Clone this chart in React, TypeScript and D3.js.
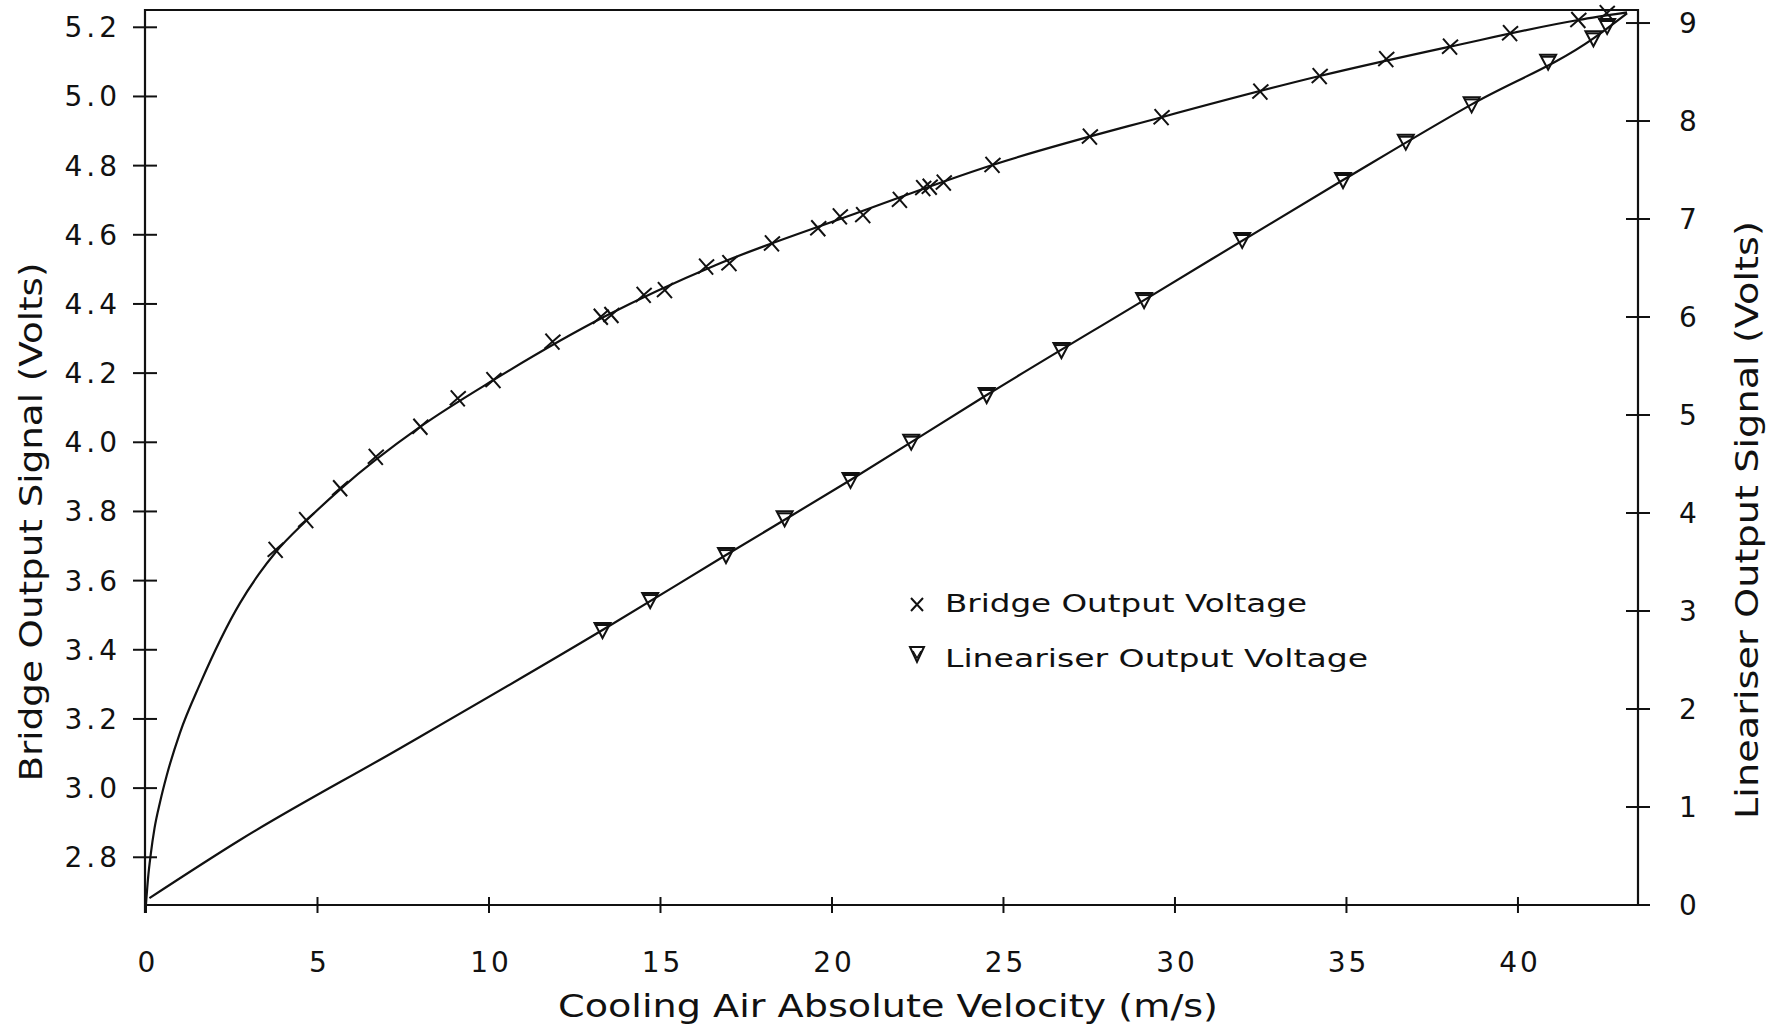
import * as d3 from 'd3'

// bridge output (left axis), marker readings
const bridgeVel = [3.78, 4.67, 5.66, 6.70, 8.00, 9.09, 10.13, 11.85, 13.26, 13.57, 14.51, 15.13, 16.33, 17.01, 18.25, 19.60, 20.23, 20.91, 21.98, 22.66, 22.85, 23.26, 24.68, 27.52, 29.61, 32.49, 34.22, 36.16, 38.02, 39.77, 41.76, 42.59]
const bridgeVolt = [3.689, 3.775, 3.867, 3.958, 4.045, 4.127, 4.180, 4.291, 4.363, 4.368, 4.426, 4.440, 4.508, 4.518, 4.575, 4.619, 4.653, 4.657, 4.701, 4.735, 4.739, 4.751, 4.802, 4.884, 4.940, 5.014, 5.059, 5.108, 5.144, 5.183, 5.221, 5.241]

// fitted bridge curve
const bridgeFitVel = [0.0, 0.06, 0.14, 0.25, 0.41, 0.60, 0.99, 1.57, 2.74, 3.3, 3.78, 4.67, 5.66, 8.0, 10.13, 13.4, 16.6, 20.5, 24.68, 29.61, 34.22, 38.02, 41.76, 43.18]
const bridgeFitVolt = [2.665, 2.74, 2.81, 2.885, 2.96, 3.035, 3.16, 3.30, 3.535, 3.62, 3.682, 3.773, 3.864, 4.045, 4.18, 4.365, 4.512, 4.655, 4.802, 4.94, 5.059, 5.144, 5.221, 5.243]

// lineariser output (right axis)
const linVel = [13.31, 14.70, 16.91, 18.62, 20.54, 22.31, 24.51, 26.69, 29.10, 31.96, 34.90, 36.73, 38.65, 40.88, 42.20, 42.6]
const linVolt = [2.806, 3.112, 3.571, 3.946, 4.337, 4.728, 5.204, 5.663, 6.173, 6.786, 7.398, 7.789, 8.17, 8.605, 8.844, 8.97]

const linFitVel = [0.1, 2.74, 7.41, 13.31, 16.91, 20.54, 24.51, 29.10, 34.90, 38.65, 42.20, 43.18]
const linFitVolt = [0.07, 0.663, 1.60, 2.806, 3.571, 4.337, 5.204, 6.173, 7.398, 8.17, 8.844, 9.10]

const xTicks = [0, 5, 10, 15, 20, 25, 30, 35, 40]
const leftTicks = [2.8, 3.0, 3.2, 3.4, 3.6, 3.8, 4.0, 4.2, 4.4, 4.6, 4.8, 5.0, 5.2]
const rightTicks = [0, 1, 2, 3, 4, 5, 6, 7, 8, 9]

const W = 1778
const H = 1028
const FONT = '"DejaVu Sans", sans-serif'

const App = () => {
  const x = d3.scaleLinear().domain([0, 43.5]).range([146, 1638])
  const yL = d3.scaleLinear().domain([2.662, 5.25]).range([905, 10])
  const yR = d3.scaleLinear().domain([0, 9.133]).range([905, 10])

  const left = 145
  const right = x(43.5)
  const bottom = yL(2.662)
  const top = yL(5.25)

  const bridgeLine = d3.line<number>()
    .x((_, i) => x(bridgeFitVel[i]))
    .y((d) => yL(d))
    .curve(d3.curveMonotoneX)
  const linLine = d3.line<number>()
    .x((_, i) => x(linFitVel[i]))
    .y((d) => yR(d))
    .curve(d3.curveMonotoneX)

  const fmt = d3.format('.1f')
  const ink = '#111'

  const cross = (cx: number, cy: number, k: string | number) => (
    <path key={k} d={`M${cx - 7},${cy - 8}L${cx + 7},${cy + 8}M${cx - 8},${cy + 7}L${cx + 8},${cy - 7}`}
      stroke={ink} strokeWidth={2} fill="none" />
  )
  const tri = (cx: number, cy: number, k: string | number) => (
    <g key={k} transform={`translate(${cx},${cy})`}>
      <path d="M-8,-7L8,-7L0,8Z" stroke={ink} strokeWidth={2} fill="none" />
      <path d="M-7,-5L7,-5" stroke={ink} strokeWidth={2} />
    </g>
  )

  return (
    <svg width={W} height={H} style={{ position: 'absolute', left: 0, top: 0, background: '#fff' }}>
      <rect width={W} height={H} fill="#fff" />

      {/* frame / axes */}
      <path d={`M${left},${bottom + 8}L${left},${top}L${right},${top}L${right},${bottom}`} stroke={ink} strokeWidth={2.2} fill="none" />
      <path d={`M${left},${bottom}L${right + 12},${bottom}`} stroke={ink} strokeWidth={2.2} />

      {/* x ticks */}
      {xTicks.map((t) => (
        <g key={`x${t}`}>
          <line x1={x(t)} x2={x(t)} y1={bottom - 8} y2={bottom + 8} stroke={ink} strokeWidth={2} />
          <text x={x(t) + 2} y={972} textAnchor="middle" fontSize={28} fontFamily={FONT} letterSpacing={3} fill={ink}>{t}</text>
        </g>
      ))}

      {/* left ticks */}
      {leftTicks.map((t) => (
        <g key={`l${t}`}>
          <line x1={left - 12} x2={left + 12} y1={yL(t)} y2={yL(t)} stroke={ink} strokeWidth={2} />
          <text x={121} y={yL(t) + 10} textAnchor="end" fontSize={28} fontFamily={FONT} letterSpacing={4} fill={ink}>{fmt(t)}</text>
        </g>
      ))}

      {/* right ticks */}
      {rightTicks.map((t) => (
        <g key={`r${t}`}>
          <line x1={right - 12} x2={right + 12} y1={yR(t)} y2={yR(t)} stroke={ink} strokeWidth={2} />
          <text x={1679} y={yR(t) + 10} textAnchor="start" fontSize={28} fontFamily={FONT} fill={ink}>{t}</text>
        </g>
      ))}

      {/* axis titles */}
      <text transform="translate(42,522) rotate(-90)" textAnchor="middle" fontSize={32} fontFamily={FONT}
        textLength={519} lengthAdjust="spacingAndGlyphs" fill={ink}>Bridge Output Signal (Volts)</text>
      <text transform="translate(1758,520) rotate(-90)" textAnchor="middle" fontSize={32} fontFamily={FONT}
        textLength={598} lengthAdjust="spacingAndGlyphs" fill={ink}>Lineariser Output Signal (Volts)</text>
      <text x={888} y={1017} textAnchor="middle" fontSize={32} fontFamily={FONT}
        textLength={660} lengthAdjust="spacingAndGlyphs" fill={ink}>Cooling Air Absolute Velocity (m/s)</text>

      {/* curves */}
      <path d={bridgeLine(bridgeFitVolt) ?? ''} stroke={ink} strokeWidth={2.2} fill="none" />
      <path d={linLine(linFitVolt) ?? ''} stroke={ink} strokeWidth={2.2} fill="none" />

      {/* markers */}
      {bridgeVolt.map((v, i) => cross(x(bridgeVel[i]), yL(v), `b${i}`))}
      {linVolt.map((v, i) => tri(x(linVel[i]), yR(v), `t${i}`))}

      {/* legend */}
      <path d="M911,598L923,611M911,611L923,598" stroke={ink} strokeWidth={2} />
      <text x={945} y={612} fontSize={24} fontFamily={FONT} textLength={362} lengthAdjust="spacingAndGlyphs" fill={ink}>Bridge Output Voltage</text>
      <g transform="translate(917,654)">
        <path d="M-7,-7L7,-7L0,8Z" stroke={ink} strokeWidth={2} fill="none" />
        <path d="M-4,-3L0,4L4,-3" stroke={ink} strokeWidth={1.5} fill="none" />
      </g>
      <text x={945} y={667} fontSize={24} fontFamily={FONT} textLength={423} lengthAdjust="spacingAndGlyphs" fill={ink}>Lineariser Output Voltage</text>
    </svg>
  )
}

export default App
